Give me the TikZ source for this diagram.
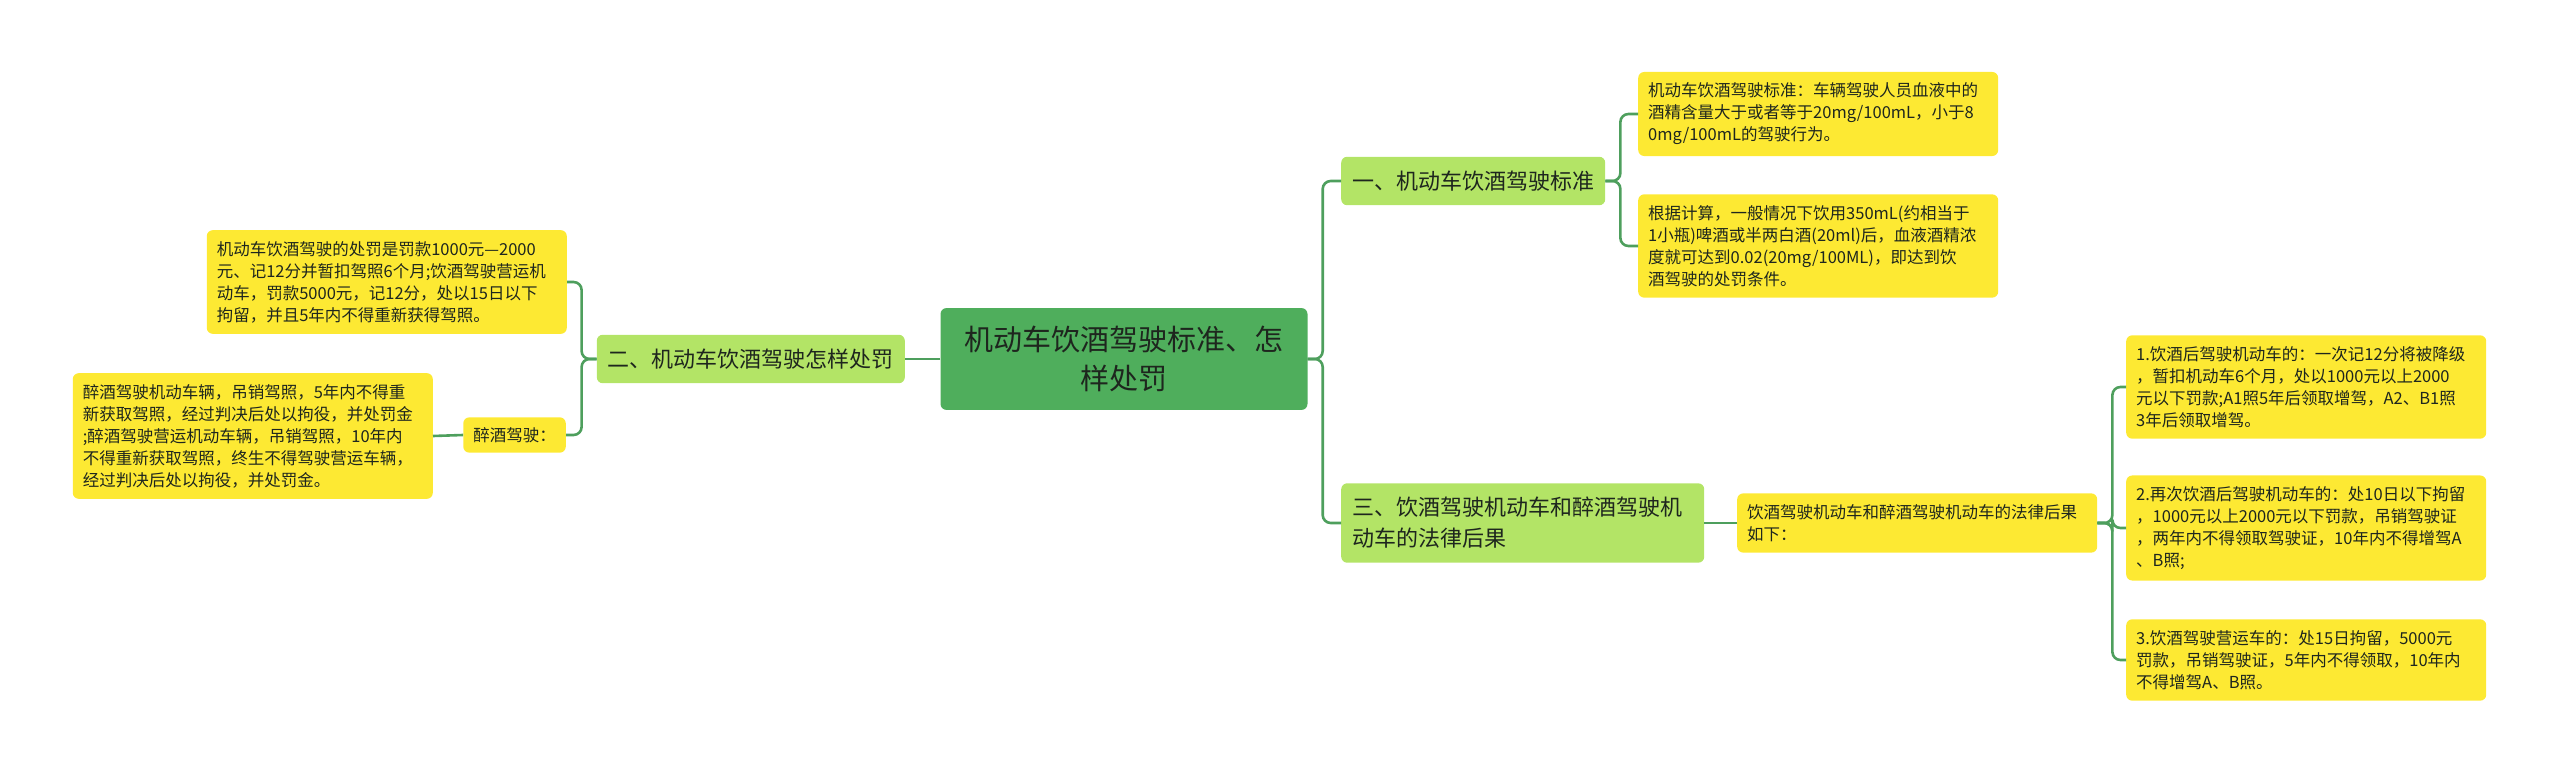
\documentclass[tikz,border=0pt]{standalone}
\usepackage{fontspec}
\setmainfont{Noto Sans CJK SC}
\begin{document}
\begin{tikzpicture}[x=1pt, y=-1pt, line cap=butt, line join=round,
  rootbox/.style={fill=mmroot, text=mmdark, rounded corners=6pt, align=center,
    font=\fontsize{29}{39}\selectfont, inner xsep=24pt, inner ysep=18pt},
  topicbox/.style={fill=mmtopic, text=mmdark, rounded corners=6pt, align=left,
    font=\fontsize{22}{31}\selectfont, inner xsep=11pt, inner ysep=14pt},
  leafbox/.style={fill=mmleaf, text=mmdark, rounded corners=6pt, align=left,
    font=\fontsize{16.5}{22}\selectfont, inner xsep=10pt, inner ysep=10pt},
  leafwide/.style={leafbox, text width=340pt, inner ysep=11pt},
  link/.style={draw=mmline, line width=2.6pt, rounded corners=8pt}]
\definecolor{mmroot}{HTML}{4FAE5C}
\definecolor{mmtopic}{HTML}{B3E466}
\definecolor{mmleaf}{HTML}{FDE933}
\definecolor{mmline}{HTML}{4E9F5D}
\definecolor{mmdark}{HTML}{1E261E}
\useasboundingbox (0,0) rectangle (2560,775);
% ---- centre ----
\node[rootbox] (root) at (1124,359) {机动车饮酒驾驶标准、怎\\样处罚};
% ---- left side: penalties ----
\node[topicbox, anchor=east] (two) at (905,359) {二、机动车饮酒驾驶怎样处罚};
\node[leafwide, anchor=east] (penalty) at (567,282) {机动车饮酒驾驶的处罚是罚款1000元—2000\\元、记12分并暂扣驾照6个月;饮酒驾驶营运机\\动车，罚款5000元，记12分，处以15日以下\\拘留，并且5年内不得重新获得驾照。};
\node[leafbox, anchor=east] (drunk) at (566,435) {醉酒驾驶：};
\node[leafwide, anchor=east] (drunkleaf) at (433,436) {醉酒驾驶机动车辆，吊销驾照，5年内不得重\\新获取驾照，经过判决后处以拘役，并处罚金\\;醉酒驾驶营运机动车辆，吊销驾照，10年内\\不得重新获取驾照，终生不得驾驶营运车辆，\\经过判决后处以拘役，并处罚金。};
% ---- right side: standard ----
\node[topicbox, anchor=west] (one) at (1341,181) {一、机动车饮酒驾驶标准};
\node[leafwide, anchor=west] (stdA) at (1638,114) {机动车饮酒驾驶标准：车辆驾驶人员血液中的\\酒精含量大于或者等于20mg/100mL，小于8\\0mg/100mL的驾驶行为。};
\node[leafwide, anchor=west] (stdB) at (1638,246) {根据计算，一般情况下饮用350mL(约相当于\\1小瓶)啤酒或半两白酒(20ml)后，血液酒精浓\\度就可达到0.02(20mg/100ML)，即达到饮\\酒驾驶的处罚条件。};
% ---- right side: consequences ----
\node[topicbox, anchor=west, text width=341pt] (three) at (1341,523) {三、饮酒驾驶机动车和醉酒驾驶机\\动车的法律后果};
\node[leafwide, anchor=west] (conseq) at (1737,523) {饮酒驾驶机动车和醉酒驾驶机动车的法律后果\\如下：};
\node[leafwide, anchor=west] (first) at (2126,387) {1.饮酒后驾驶机动车的：一次记12分将被降级\\，暂扣机动车6个月，处以1000元以上2000\\元以下罚款;A1照5年后领取增驾，A2、B1照\\3年后领取增驾。};
\node[leafwide, anchor=west] (second) at (2126,528) {2.再次饮酒后驾驶机动车的：处10日以下拘留\\，1000元以上2000元以下罚款，吊销驾驶证\\，两年内不得领取驾驶证，10年内不得增驾A\\、B照;};
\node[leafwide, anchor=west] (third) at (2126,660) {3.饮酒驾驶营运车的：处15日拘留，5000元\\罚款，吊销驾驶证，5年内不得领取，10年内\\不得增驾A、B照。};
% ---- branches ----
\draw[link] (root.west) -- (two.east);
\draw[link] (two.west) -- ++(-15,0) |- (penalty.east);
\draw[link] (two.west) -- ++(-15,0) |- (drunk.east);
\draw[link] (drunk.west) -- (drunkleaf.east);
\draw[link] (root.east) -- ++(15,0) |- (one.west);
\draw[link] (root.east) -- ++(15,0) |- (three.west);
\draw[link] (one.east) -- ++(15,0) |- (stdA.west);
\draw[link] (one.east) -- ++(15,0) |- (stdB.west);
\draw[link] (three.east) -- (conseq.west);
\foreach \n in {first, second, third}
  \draw[link] (conseq.east) -- ++(15,0) |- (\n.west);
\end{tikzpicture}
\end{document}
